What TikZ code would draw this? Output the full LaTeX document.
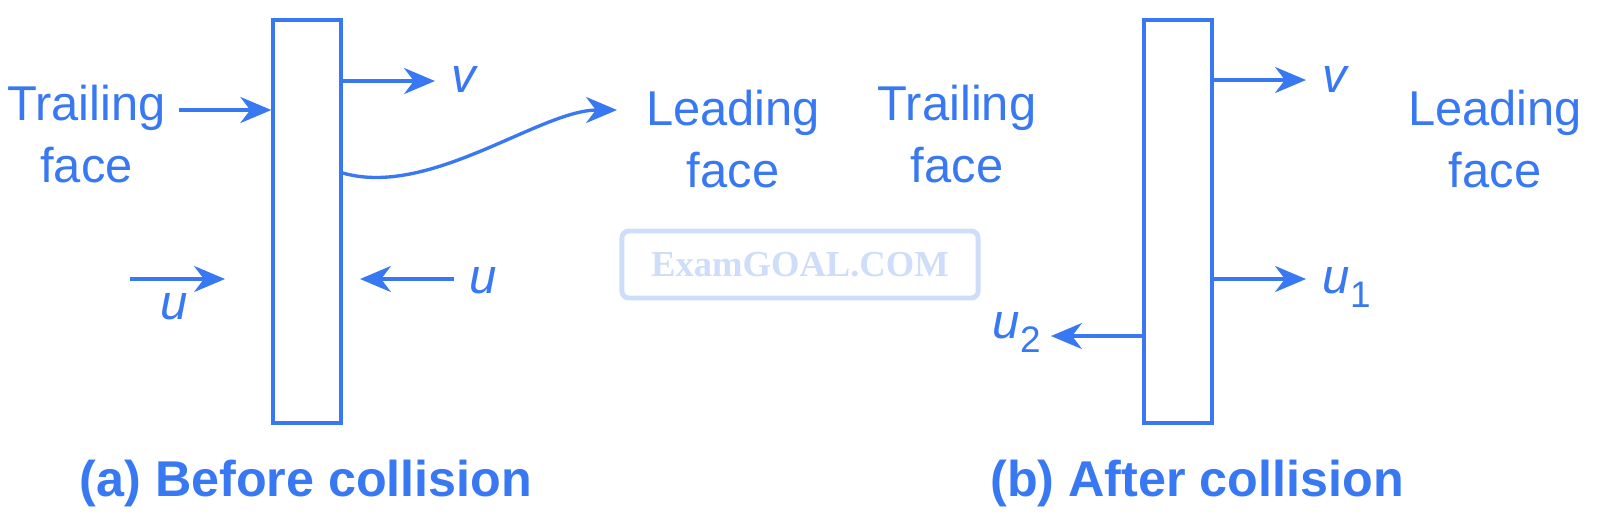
\documentclass[tikz,border=0pt]{standalone}
\usepackage{fontspec}
\setmainfont{Liberation Sans}
\newfontfamily\wmfont{Liberation Serif}
\usetikzlibrary{arrows.meta}
\definecolor{ink}{RGB}{56,120,242}
\definecolor{wm}{RGB}{206,221,250}
\begin{document}
\begin{tikzpicture}[x=0.01cm,y=-0.01cm,
  lbl/.style={text=ink, font=\fontsize{13.9}{17.9}\selectfont, align=center, inner sep=0pt},
  sym/.style={text=ink, font=\fontsize{14}{16}\selectfont\itshape, inner sep=0pt, anchor=base},
  captext/.style={text=ink, font=\fontsize{14.3}{17}\selectfont\bfseries, inner sep=0pt, anchor=base},
  block/.style={draw=ink, line width=0.95pt, minimum width=0.68cm, minimum height=4.03cm, inner sep=0pt},
  vec/.style={draw=ink, line width=0.95pt, -{Stealth[length=8.8pt,width=7.4pt,inset=2.8pt]}},
  wmbox/.style={draw=wm, line width=1.4pt, rounded corners=2pt, minimum width=3.56cm, minimum height=0.67cm, text=wm, inner sep=0pt, font=\wmfont\bfseries\fontsize{10.4}{12}\selectfont}
]
\useasboundingbox (0,0) rectangle (1600,529);

% watermark
\node[wmbox] (wmk) at (800,264.5) {ExamGOAL.COM};

% blocks
\node[block] (A) at (307,221.5) {};
\node[block] (B) at (1178,221.5) {};

% face labels
\node[lbl] (trA) at (86.5,134) {Trailing\\face};
\node[lbl] (ldA) at (733,139) {Leading\\face};
\node[lbl] (trB) at (957,134) {Trailing\\face};
\node[lbl] (ldB) at (1495,139) {Leading\\face};

% (a) arrows
\coordinate (tA) at (179,110);
\draw[vec] (tA) -- (tA -| A.west);
\coordinate (vA) at (435,81);
\draw[vec] (vA -| A.east) -- (vA);
\coordinate (cy) at (0,173);
\coordinate (cA) at (617,110);
\draw[vec] (A.east |- cy) .. controls (430,198) and (540,110) .. (cA);
\coordinate (uL0) at (130,279);
\coordinate (uL1) at (225,279);
\draw[vec] (uL0) -- (uL1);
\coordinate (uR0) at (454,279);
\coordinate (uR1) at (360,279);
\draw[vec] (uR0) -- (uR1);

% (b) arrows
\coordinate (vB) at (1306,80);
\draw[vec] (vB -| B.east) -- (vB);
\coordinate (u1B) at (1306,279);
\draw[vec] (u1B -| B.east) -- (u1B);
\coordinate (u2B) at (1051,336);
\draw[vec] (u2B -| B.west) -- (u2B);

% symbols
\node[sym] (lvA) at (464,92) {v};
\node[sym] (luL) at (174.5,319) {u};
\node[sym] (luR) at (483,293) {u};
\node[sym] (lvB) at (1335,92) {v};
\node[sym, anchor=base west] (lu1) at (1322,293) {u\raisebox{-4pt}{\upshape\fontsize{10.5}{11}\selectfont 1}};
\node[sym, anchor=base west] (lu2) at (992,338) {u\raisebox{-4pt}{\upshape\fontsize{10.5}{11}\selectfont 2}};

% captions
\node[captext] (capA) at (306,496) {(a) Before collision};
\node[captext] (capB) at (1197,496) {(b) After collision};
\end{tikzpicture}
\end{document}
